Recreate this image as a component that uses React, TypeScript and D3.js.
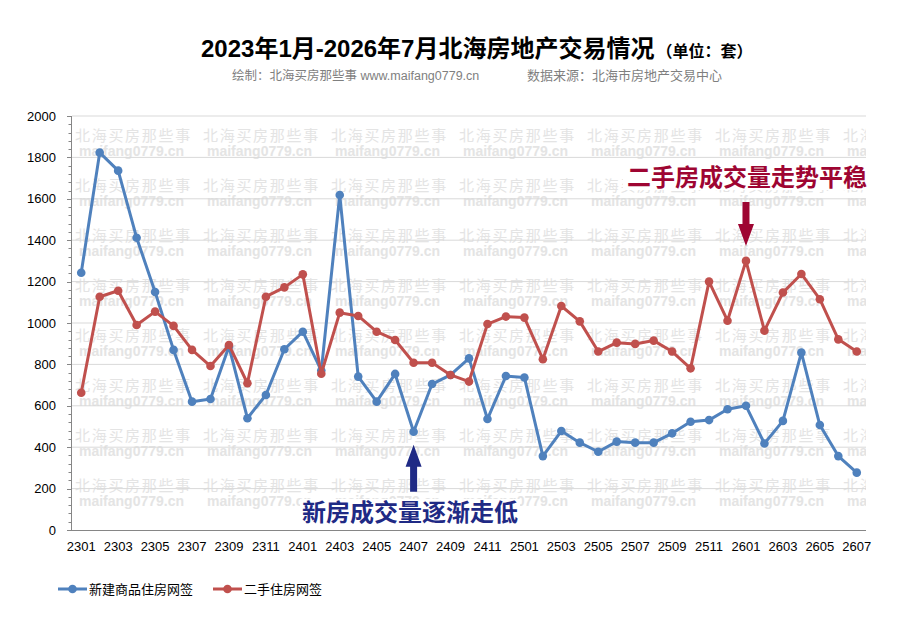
import React from "react";
import * as d3 from "d3";

// 月份 (YYMM)
const months = [
  "2301", "2302", "2303", "2304", "2305", "2306", "2307", "2308", "2309", "2310", "2311", "2312",
  "2401", "2402", "2403", "2404", "2405", "2406", "2407", "2408", "2409", "2410", "2411", "2412",
  "2501", "2502", "2503", "2504", "2505", "2506", "2507", "2508", "2509", "2510", "2511", "2512",
  "2601", "2602", "2603", "2604", "2605", "2606", "2607",
];

// 新建商品住房网签
const newHomes = [
  1243, 1823, 1736, 1412, 1150, 870, 620, 633, 886, 540, 652, 873,
  958, 770, 1618, 741, 620, 754, 475, 705, 749, 829, 536, 744,
  737, 357, 478, 422, 378, 427, 422, 422, 467, 523, 531, 583,
  600, 418, 527, 857, 507, 357, 277,
];

// 二手住房网签
const resaleHomes = [
  663, 1127, 1156, 990, 1055, 986, 870, 792, 894, 709, 1127, 1172,
  1235, 755, 1050, 1034, 958, 918, 808, 808, 749, 717, 995, 1031,
  1026, 825, 1082, 1008, 862, 905, 899, 915, 862, 781, 1200, 1011,
  1300, 963, 1147, 1237, 1115, 921, 862,
];

const yTicks = [0, 200, 400, 600, 800, 1000, 1200, 1400, 1600, 1800, 2000];

const seriesNames = ["新建商品住房网签", "二手住房网签"];
const seriesColors = ["#4f81bd", "#c0504d"];

const W = 900;
const H = 640;
const plot = { left: 72, right: 866, top: 116, bottom: 530 };

const sans = "Arial, 'Liberation Sans', 'Noto Sans CJK SC', sans-serif";

const wmCn = "北海买房那些事";
const wmEn = "maifang0779.cn";

export default function App() {
  const x = d3.scalePoint<string>().domain(months).range([plot.left, plot.right]).padding(0.5);
  const y = d3.scaleLinear().domain([0, 2000]).range([plot.bottom, plot.top]);
  const minorTicks = d3.range(0, 2001, 40);

  const line = d3
    .line<number>()
    .x((_, i) => x(months[i]) as number)
    .y((d) => y(d));

  const series = [newHomes, resaleHomes];

  // watermark tiles
  const tileCols = d3.range(plot.left + 3, plot.right, 128);
  const tileRows = d3.range(plot.top + 25, plot.bottom, 50);

  // arrows pointing at annotated points
  const redX = x("2601") as number;
  const redTip = y(resaleHomes[months.indexOf("2601")]) - 15;
  const blueX = x("2407") as number;
  const blueTip = y(newHomes[months.indexOf("2407")]) + 13;

  return (
    <svg
      width={W}
      height={H}
      style={{ position: "absolute", left: 0, top: 0, background: "#fff" }}
      fontFamily={sans}
    >
      <defs>
        <clipPath id="plotClip">
          <rect x={plot.left} y={plot.top} width={plot.right - plot.left} height={plot.bottom - plot.top} />
        </clipPath>
      </defs>

      {/* title */}
      <text x={201} y={57} fontSize={24} fontWeight="bold" fill="#000">
        2023年1月-2026年7月北海房地产交易情况
        <tspan fontSize={16} dx={2}>（单位：套）</tspan>
      </text>
      <text x={232} y={80} fontSize={12.5} fill="#7f7f7f">
        绘制：北海买房那些事 www.maifang0779.cn
      </text>
      <text x={527} y={80} fontSize={13} fill="#7f7f7f">
        数据来源：北海市房地产交易中心
      </text>

      {/* watermark */}
      <g clipPath="url(#plotClip)">
        {tileRows.map((ry) =>
          tileCols.map((cx) => {
            const room = plot.right - cx;
            const cn = wmCn.slice(0, Math.min(wmCn.length, Math.ceil(room / 16.7)));
            const en = wmEn.slice(0, Math.min(wmEn.length, Math.ceil((room - 4) / 7.6)));
            return (
              <g key={`${cx}-${ry}`}>
                <text
                  x={cx}
                  y={ry}
                  fontSize={15}
                  letterSpacing={1.7}
                  fill="#e4e4e4"
                  fontFamily="'Noto Sans CJK SC', sans-serif"
                >
                  {cn}
                </text>
                <text x={cx + 4} y={ry + 15} fontSize={14} fontWeight="bold" fill="#e4e4e4">
                  {en}
                </text>
              </g>
            );
          })
        )}
      </g>

      {/* grid */}
      {yTicks
        .filter((t) => t > 0)
        .map((t) => (
          <line key={t} x1={plot.left} x2={plot.right} y1={y(t)} y2={y(t)} stroke="#d9d9d9" strokeWidth={1} />
        ))}

      {/* y axis */}
      <line x1={plot.left - 0.5} x2={plot.left - 0.5} y1={plot.top} y2={plot.bottom} stroke="#868686" />
      {minorTicks.map((t) => (
        <line
          key={t}
          x1={plot.left - (t % 200 === 0 ? 5 : 3.5)}
          x2={plot.left}
          y1={Math.round(y(t)) + 0.5}
          y2={Math.round(y(t)) + 0.5}
          stroke="#868686"
        />
      ))}
      {yTicks.map((t) => (
        <text key={t} x={56} y={y(t) + 4.5} fontSize={13} textAnchor="end" fill="#000">
          {t}
        </text>
      ))}

      {/* x axis */}
      <line x1={plot.left - 0.5} x2={plot.right} y1={plot.bottom + 0.5} y2={plot.bottom + 0.5} stroke="#868686" />
      {months
        .filter((_, i) => i % 2 === 0)
        .map((m) => (
          <text key={m} x={x(m)} y={551} fontSize={13} textAnchor="middle" fill="#000">
            {m}
          </text>
        ))}

      {/* series */}
      {series.map((s, si) => (
        <g key={si}>
          <path d={line(s) || ""} fill="none" stroke={seriesColors[si]} strokeWidth={3} strokeLinejoin="round" />
          {s.map((v, i) => (
            <circle key={i} cx={x(months[i])} cy={y(v)} r={4.3} fill={seriesColors[si]} />
          ))}
        </g>
      ))}

      {/* annotations */}
      <rect x={623} y={164} width={245} height={26} fill="#fff" />
      <text x={867} y={186} fontSize={24} fontWeight="bold" textAnchor="end" fill="#9e0532">
        二手房成交量走势平稳
      </text>
      <path
        d={`M${redX - 3.5},${redTip - 44} L${redX + 3.5},${redTip - 44} L${redX + 3.5},${redTip - 22} L${redX + 8},${redTip - 22} L${redX},${redTip} L${redX - 8},${redTip - 22} L${redX - 3.5},${redTip - 22} Z`}
        fill="#9e0532"
      />

      <path
        d={`M${blueX - 3.5},${blueTip + 47} L${blueX + 3.5},${blueTip + 47} L${blueX + 3.5},${blueTip + 22} L${blueX + 8},${blueTip + 22} L${blueX},${blueTip} L${blueX - 8},${blueTip + 22} L${blueX - 3.5},${blueTip + 22} Z`}
        fill="#1f2a85"
      />
      <rect x={300} y={499} width={220} height={27} fill="#fff" />
      <text x={302} y={521} fontSize={24} fontWeight="bold" fill="#1f2a85">
        新房成交量逐渐走低
      </text>

      {/* legend */}
      {seriesNames.map((name, i) => {
        const lx = i === 0 ? 58 : 213;
        return (
          <g key={name}>
            <line x1={lx} x2={lx + 29} y1={589} y2={589} stroke={seriesColors[i]} strokeWidth={3} />
            <circle cx={lx + 14.5} cy={589} r={4.3} fill={seriesColors[i]} />
            <text x={lx + 31} y={594} fontSize={13} fill="#000">
              {name}
            </text>
          </g>
        );
      })}
    </svg>
  );
}
